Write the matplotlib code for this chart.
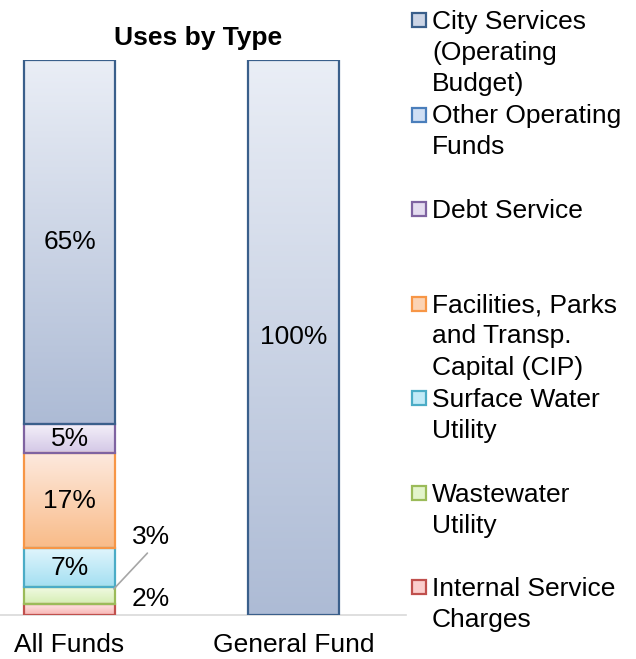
import numpy as np
import matplotlib.pyplot as plt
from matplotlib.colors import LinearSegmentedColormap
from matplotlib.patches import Rectangle

plt.rcParams['font.family'] = ['Liberation Sans', 'DejaVu Sans']

groups = ['All Funds', 'General Fund']
categories = ['City Services\n(Operating\nBudget)',
              'Other Operating\nFunds',
              'Debt Service',
              'Facilities, Parks\nand Transp.\nCapital (CIP)',
              'Surface Water\nUtility',
              'Wastewater\nUtility',
              'Internal Service\nCharges']
all_funds = [65.6, 0, 5.2, 17.2, 7.0, 3.0, 2.0]
general_fund = [100, 0, 0, 0, 0, 0, 0]
all_labels = ['65%', '', '5%', '17%', '7%', '3%', '2%']
general_labels = ['100%', '', '', '', '', '', '']

# top colour, bottom colour, edge colour
top_colors = ['#eaeef6', '#e6eefa', '#f4f0f9', '#fdeadf', '#e0f5fc', '#f1fae4', '#fee6e6']
bottom_colors = ['#adbbd5', '#b9d0ee', '#d3c7e6', '#f9bb88', '#a3dff2', '#d5eeb2', '#f8b6b4']
edge_colors = ['#3a5f8b', '#4a7ebb', '#7f63a1', '#f79646', '#4bacc6', '#9bbb59', '#c0504d']

W, H = 636, 659
fig = plt.figure(figsize=(W / 100, H / 100), dpi=100)
ax = fig.add_axes([0, 1 - 615 / H, 406 / W, 555 / H])

x = np.arange(len(groups))
width = 0.405
grad = np.linspace(0, 1, 256).reshape(-1, 1)

bottoms = np.zeros(len(groups))
seg_pos = {}
for i in reversed(range(len(categories))):
    vals = np.array([all_funds[i], general_fund[i]])
    bars = ax.bar(x, vals, width, bottom=bottoms, facecolor='none',
                  edgecolor=edge_colors[i], linewidth=1.6, zorder=3)
    cmap = LinearSegmentedColormap.from_list('g%d' % i, [bottom_colors[i], top_colors[i]])
    for j, p in enumerate(bars.patches):
        if vals[j] <= 0:
            p.set_linewidth(0)
            continue
        im = ax.imshow(grad, extent=[p.get_x(), p.get_x() + p.get_width(),
                                     p.get_y(), p.get_y() + p.get_height()],
                       cmap=cmap, origin='lower', aspect='auto', zorder=2)
        im.set_clip_path(p)
    seg_pos[i] = bottoms.copy()
    bottoms = bottoms + vals

ax.set_xlim(-0.31, 1.5)
ax.set_ylim(0, 100)

fs = 19
# labels inside the bars
for i in range(len(categories)):
    if all_funds[i] >= 5:
        ax.text(x[0], seg_pos[i][0] + all_funds[i] / 2, all_labels[i],
                ha='center', va='center', fontsize=fs, zorder=4)
    if general_labels[i]:
        ax.text(x[1], seg_pos[i][1] + general_fund[i] / 2, general_labels[i],
                ha='center', va='center', fontsize=fs, zorder=4)

# small segments labelled outside
ww = 5
ax.annotate(all_labels[ww], xy=(x[0] + width / 2 - 0.005, seg_pos[ww][0] + 0.9 * all_funds[ww]),
            xytext=(0.363, 14.0), ha='center', va='center', fontsize=fs,
            arrowprops=dict(arrowstyle='-', color='#a6a6a6', lw=1.2,
                            relpos=(0.5, 0), shrinkA=1, shrinkB=0), zorder=4)
ins = 6
ax.text(0.363, seg_pos[ins][0] + all_funds[ins] / 2 + 1.9, all_labels[ins],
        ha='center', va='center', fontsize=fs, zorder=4)

ax.set_xticks(x)
ax.set_xticklabels(groups, fontsize=fs)
ax.tick_params(axis='x', length=0, pad=13)
ax.set_yticks([])
for s in ['top', 'right', 'left']:
    ax.spines[s].set_visible(False)
ax.spines['bottom'].set_color('#d9d9d9')
ax.spines['bottom'].set_linewidth(1.2)
ax.set_title('Uses by Type', fontsize=fs, fontweight='bold', x=0.487, pad=11)


def px(px_x, px_y):
    return px_x / W, 1 - px_y / H


# legend, one slot of three lines per category
for i, cat in enumerate(categories):
    base = 29 + 94.5 * i
    mid = LinearSegmentedColormap.from_list('m', [bottom_colors[i], top_colors[i]])(0.5)
    fig.patches.append(Rectangle(px(412, base - 2), 14 / W, 14 / H,
                                 transform=fig.transFigure, facecolor=mid,
                                 edgecolor=edge_colors[i], linewidth=1.6))
    for j, line in enumerate(cat.split('\n')):
        fx, fy = px(432, base + 31 * j)
        fig.text(fx, fy, line, ha='left', va='baseline', fontsize=fs)

fig.savefig('out.png', dpi=100)
